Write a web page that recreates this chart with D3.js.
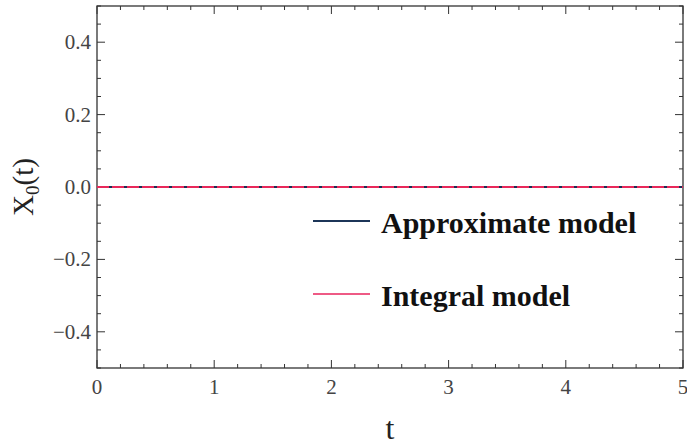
<!DOCTYPE html>
<html><head><meta charset="utf-8">
<script src="https://cdn.jsdelivr.net/npm/d3@7"></script>
<style>body{margin:0;background:#fff}svg{display:block}</style>
</head><body>
<svg id="c" width="687" height="447"></svg>
<script>
const tValues = [0, 0.5, 1, 1.5, 2, 2.5, 3, 3.5, 4, 4.5, 5];
const approximateModel = [0, 0, 0, 0, 0, 0, 0, 0, 0, 0, 0];
const integralModel = [0, 0, 0, 0, 0, 0, 0, 0, 0, 0, 0];
const xTicks = [0, 1, 2, 3, 4, 5];
const yTicks = [-0.4, -0.2, 0.0, 0.2, 0.4];
const seriesNames = ["Approximate model", "Integral model"];

const svg = d3.select("#c");
const L = 97, R = 683, T = 6, B = 368;
const x = d3.scaleLinear().domain([0, 5]).range([L, R]);
const y = d3.scaleLinear().domain([-0.5, 0.5]).range([B, T]);
const serif = "Liberation Serif, Times New Roman, DejaVu Serif, serif";
const axisCol = "#333";

const xMinor = d3.range(0, 5.0001, 0.2);
const yMinor = d3.range(-0.5, 0.5001, 0.05);
const g = svg.append("g");
function isMajor(v, step) { return Math.abs(v / step - Math.round(v / step)) < 1e-6; }
xMinor.forEach(v => {
  const len = isMajor(v, 1) ? 8 : 4;
  g.append("line").attr("x1", x(v)).attr("x2", x(v)).attr("y1", B).attr("y2", B - len).attr("stroke", axisCol).attr("stroke-width", 1);
  g.append("line").attr("x1", x(v)).attr("x2", x(v)).attr("y1", T).attr("y2", T + len).attr("stroke", axisCol).attr("stroke-width", 1);
});
yMinor.forEach(v => {
  const len = isMajor(v, 0.2) ? 8 : 4;
  g.append("line").attr("y1", y(v)).attr("y2", y(v)).attr("x1", L).attr("x2", L + len).attr("stroke", axisCol).attr("stroke-width", 1);
  g.append("line").attr("y1", y(v)).attr("y2", y(v)).attr("x1", R).attr("x2", R - len).attr("stroke", axisCol).attr("stroke-width", 1);
});
g.append("rect").attr("x", L).attr("y", T).attr("width", R - L).attr("height", B - T)
  .attr("fill", "none").attr("stroke", axisCol).attr("stroke-width", 1.3);

const fmtY = v => (v < 0 ? "\u22120." : "0.") + String(Math.round(Math.abs(v) * 10));
svg.selectAll(".yl").data(yTicks).enter().append("text")
  .attr("x", L - 6).attr("y", d => y(d) + 7).attr("text-anchor", "end")
  .attr("font-family", serif).attr("font-size", 21).attr("fill", "#444")
  .text(d => fmtY(d));
svg.selectAll(".xl").data(xTicks).enter().append("text")
  .attr("x", d => x(d)).attr("y", 394).attr("text-anchor", "middle")
  .attr("font-family", serif).attr("font-size", 21).attr("fill", "#444")
  .text(d => d);

svg.append("text").attr("x", 390).attr("y", 439).attr("text-anchor", "middle")
  .attr("font-family", serif).attr("font-size", 32).attr("fill", "#222").text("t");
const yt = svg.append("text").attr("transform", "translate(33," + y(0) + ") rotate(-90)")
  .attr("text-anchor", "middle").attr("font-family", serif).attr("font-size", 29).attr("fill", "#222");
yt.append("tspan").text("X");
yt.append("tspan").attr("font-size", 19).attr("dy", 6).text("0");
yt.append("tspan").attr("dy", -6).text("(t)");

const line = d3.line().x((d, i) => x(tValues[i])).y(d => y(d));
svg.append("path").datum(approximateModel).attr("d", line)
  .attr("fill", "none").attr("stroke", "#1c2f55").attr("stroke-width", 2.2);
svg.append("path").datum(integralModel).attr("d", line)
  .attr("fill", "none").attr("stroke", "#e8285a").attr("stroke-width", 2.2)
  .attr("stroke-dasharray", "12,3");

const legend = [{ name: seriesNames[0], color: "#1c3558", y: 221 }, { name: seriesNames[1], color: "#ee5a85", y: 294 }];
legend.forEach(l => {
  svg.append("line").attr("x1", 313).attr("x2", 370).attr("y1", l.y).attr("y2", l.y)
    .attr("stroke", l.color).attr("stroke-width", 2);
  svg.append("text").attr("x", 381).attr("y", l.y + 12).attr("font-family", serif)
    .attr("font-weight", "bold").attr("font-size", 30).attr("fill", "#111").text(l.name);
});
</script>
</body></html>
